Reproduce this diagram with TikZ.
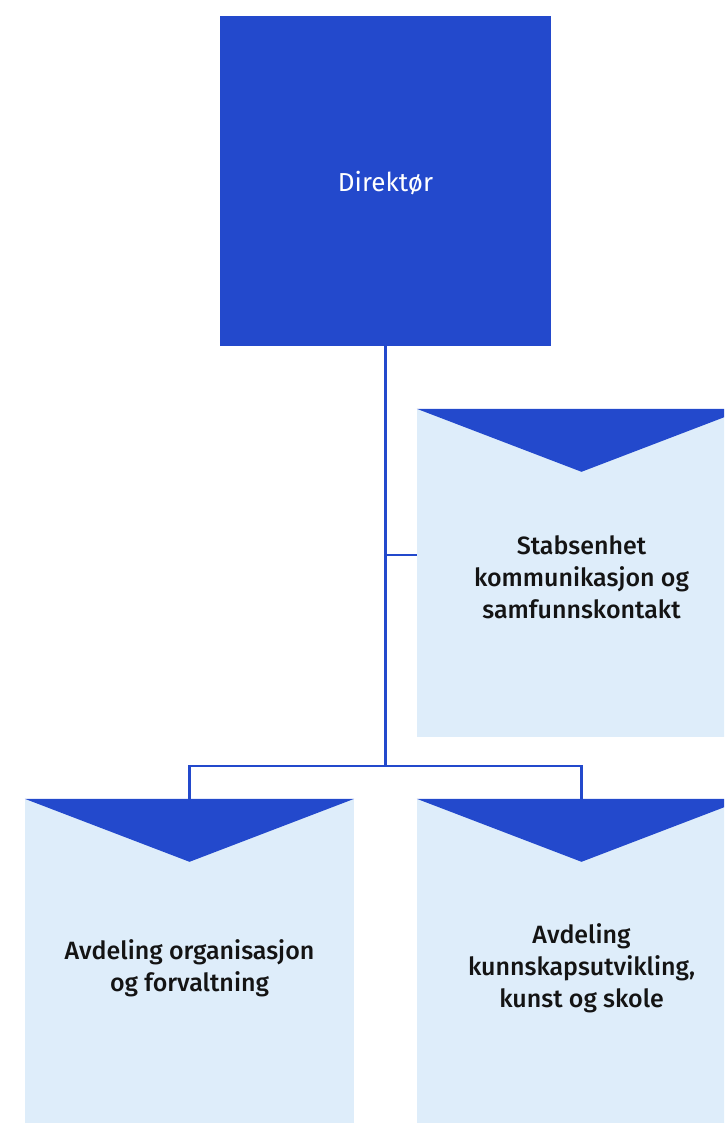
\documentclass[tikz,border=0pt]{standalone}
\usepackage{fontspec}
\usetikzlibrary{calc}
\setmainfont{Fira Sans}
\newfontfamily\medfont{Fira Sans}[UprightFont=* Medium]
\definecolor{dblue}{HTML}{2349CC}
\definecolor{lblue}{HTML}{DEEDFA}
\begin{document}
\begin{tikzpicture}[x=1pt,y=-1pt,
  topbox/.style={rectangle,fill=dblue,draw=none,minimum width=331pt,minimum height=330pt,inner sep=0pt},
  toptext/.style={text=white,inner sep=0pt,font=\fontsize{26}{32}\selectfont},
  unitbox/.style={rectangle,fill=lblue,draw=none,minimum width=329pt,minimum height=328pt,inner sep=0pt},
  unittext/.style={inner sep=0pt,align=center,text=black!92,font=\medfont\fontsize{25}{32}\selectfont},
  conn/.style={draw=dblue,line width=2.5pt}]
\useasboundingbox (0,0) rectangle (724,1123);
\clip (0,0) rectangle (724,1123);
\node[topbox] (dir) at (385.5,181) {};
\node[toptext] (dirt) at ($(dir.center)+(0,2)$) {Direktør};
\node[unitbox] (stab) at (581.5,573) {};
\node[unitbox] (org) at (189.5,963) {};
\node[unitbox] (kunn) at (581.5,963) {};
\foreach \n in {stab,org,kunn}{
  \fill[dblue] (\n.north west) -- (\n.north east) -- ($(\n.north)+(0,63)$) -- cycle;
}
\node[unittext] (stabt) at ($(stab.center)+(0,4)$) {Stabsenhet\\kommunikasjon og\\samfunnskontakt};
\node[unittext] (orgt) at ($(org.center)+(0,5)$) {Avdeling organisasjon\\og forvaltning};
\node[unittext] (kunnt) at ($(kunn.center)+(0,5)$) {Avdeling\\kunnskapsutvikling,\\kunst og skole};
\coordinate (jn) at (dir.south |- 0,766);
\coordinate (js) at (dir.south |- 0,555);
\draw[conn] (dir.south) -- (jn);
\draw[conn] (js) -- (stab.west |- js);
\draw[conn] (org.north) |- (jn) -| (kunn.north);
\end{tikzpicture}
\end{document}
